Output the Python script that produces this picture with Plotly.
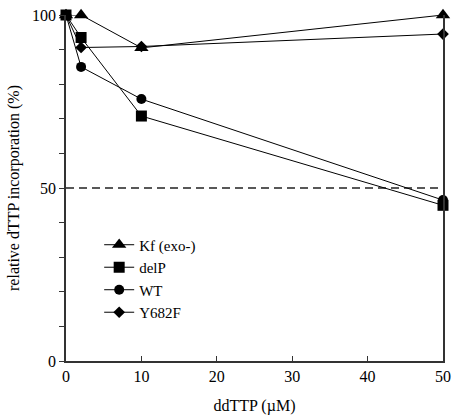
import plotly.graph_objects as go

x_vals = [0, 2, 10, 50]
kf_exo = [100, 100, 90.5, 100]
delp = [100, 93.5, 70.8, 45.0]
wt = [100, 85.0, 75.7, 46.5]
y682f = [100, 90.6, 90.9, 94.5]

series_names = ["Kf (exo-)", "delP", "WT", "Y682F"]
series_symbols = ["triangle-up", "square", "circle", "diamond"]
series_sizes = [12.5, 11, 10, 9]
series_values = [kf_exo, delp, wt, y682f]
draw_order = [3, 2, 0, 1]

x_ticks = [0, 10, 20, 30, 40, 50]
y_ticks = [0, 10, 20, 30, 40, 50, 60, 70, 80, 90, 100]
y_ticktext = ["0", "", "", "", "", "50", "", "", "", "", "100"]
threshold = 50

FONT = "Liberation Serif"

fig = go.Figure()

fig.add_trace(go.Scatter(
    x=[0, 50], y=[threshold, threshold], mode="lines",
    line=dict(color="#222", width=1.5, dash="8px,5px"),
    showlegend=False, hoverinfo="skip", cliponaxis=False,
))

for i in draw_order:
    fig.add_trace(go.Scatter(
        x=x_vals, y=series_values[i], mode="lines+markers", name=series_names[i],
        legendrank=i + 1,
        line=dict(color="black", width=1),
        marker=dict(symbol=series_symbols[i], size=series_sizes[i], color="black"),
        cliponaxis=False,
    ))

fig.update_layout(
    width=458, height=419,
    margin=dict(l=66, r=8, t=7, b=57),
    paper_bgcolor="white", plot_bgcolor="white",
    font=dict(family=FONT, size=16, color="black"),
    showlegend=True,
    legend=dict(
        x=0.088, y=0.383, xanchor="left", yanchor="top",
        font=dict(family=FONT, size=15, color="black"),
        bgcolor="rgba(0,0,0,0)", tracegroupgap=0,
    ),
    xaxis=dict(
        range=[0, 50], tickvals=x_ticks, ticks="inside", ticklen=5,
        tickcolor="#333", showline=True, linecolor="#333", linewidth=1.5,
        showgrid=False, zeroline=False, ticklabeloverflow="allow",
        title=dict(text="ddTTP (µM)", standoff=16, font=dict(size=16)),
    ),
    yaxis=dict(
        range=[0, 100], tickvals=y_ticks, ticktext=y_ticktext,
        ticks="outside", ticklen=5, tickcolor="#333",
        showline=True, mirror=True, linecolor="#333", linewidth=1.5,
        showgrid=False, zeroline=False, ticklabeloverflow="allow",
        title=dict(text="relative dTTP incorporation (%)", standoff=8, font=dict(size=16)),
    ),
)

fig.write_html(
    "out.html",
    config={"displayModeBar": False},
    post_script="document.body.style.margin='0';document.body.style.overflow='hidden';",
)
